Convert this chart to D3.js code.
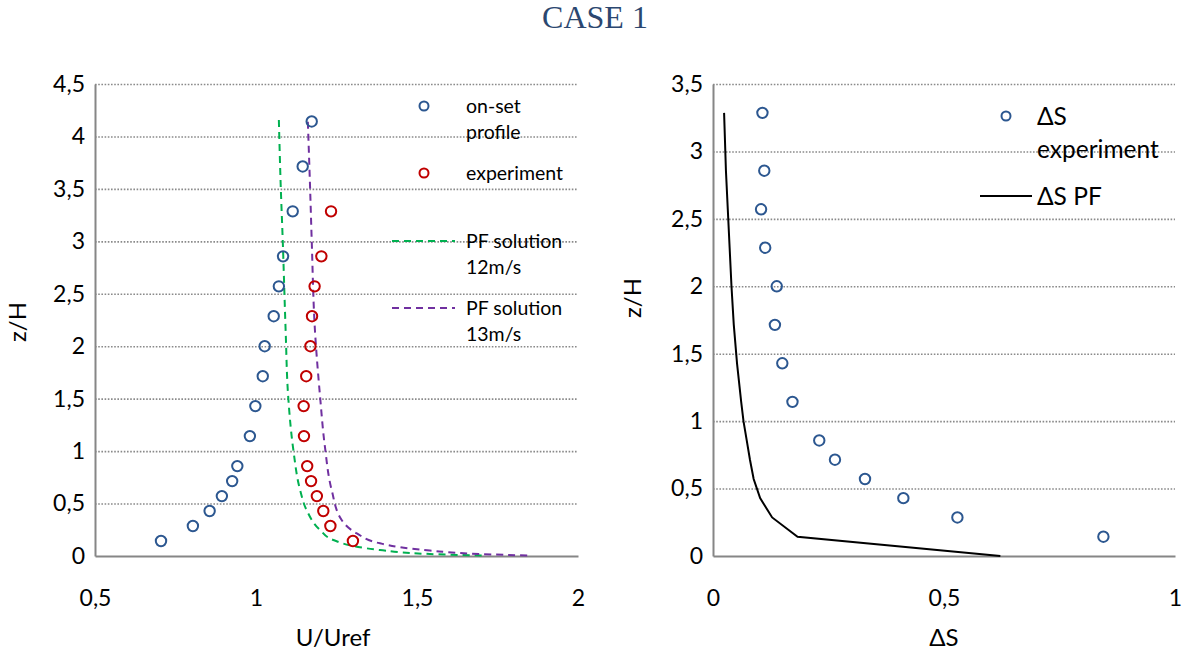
<!DOCTYPE html>
<html>
<head>
<meta charset="utf-8">
<script src="https://cdn.jsdelivr.net/npm/d3@7"></script>
<style>
  body { margin: 0; background: #fff; }
  svg { display: block; }
  text { font-family: Lato, "Noto Sans", sans-serif; fill: #000; }
  text.title { font-family: "Liberation Serif", "DejaVu Serif", serif; fill: #2b4770; }
</style>
</head>
<body>
<svg width="1184" height="654"></svg>
<script>
// Data
var zLevels = [0.143, 0.286, 0.429, 0.571, 0.714, 0.857, 1.143, 1.429, 1.714,
               2.0, 2.286, 2.571, 2.857, 3.286, 3.714, 4.143];
var onsetU = [0.705, 0.804, 0.856, 0.894, 0.926, 0.942, 0.981, 0.998, 1.021,
              1.027, 1.055, 1.071, 1.084, 1.114, 1.145, 1.173];
var expU = [1.301, 1.231, 1.209, 1.189, 1.171, 1.159, 1.149, 1.148, 1.156,
            1.169, 1.174, 1.182, 1.203, 1.233];

var pf12Z = [4.157, 3.508, 3.013, 2.155, 1.519, 1.011, 0.629, 0.439, 0.248,
             0.153, 0.089, 0.057, 0.019, 0.004];
var pf12U = [1.071, 1.077, 1.083, 1.092, 1.100, 1.116, 1.137, 1.157, 1.199,
             1.240, 1.313, 1.385, 1.540, 1.711];
var pf13Z = [4.14, 3.508, 3.013, 2.155, 1.519, 1.042, 0.629, 0.343, 0.216,
             0.121, 0.052, 0.019, 0.004];
var pf13U = [1.161, 1.168, 1.173, 1.183, 1.199, 1.214, 1.235, 1.266, 1.313,
             1.385, 1.540, 1.696, 1.851];

var dsExp = [0.845, 0.529, 0.412, 0.329, 0.264, 0.230, 0.172, 0.150, 0.134,
             0.138, 0.113, 0.104, 0.111, 0.107];
var dsPfZ = [0, 0.143, 0.286, 0.429, 0.571, 0.714, 0.857, 1.0, 1.143, 1.429,
             1.714, 2.0, 2.286, 2.571, 2.857, 3.286];
var dsPf = [0.622, 0.183, 0.128, 0.102, 0.088, 0.080, 0.073, 0.066, 0.061,
            0.052, 0.045, 0.040, 0.036, 0.032, 0.028, 0.024];

var xTicksL = [0.5, 1, 1.5, 2];
var yTicksL = [0, 0.5, 1, 1.5, 2, 2.5, 3, 3.5, 4, 4.5];
var xTicksR = [0, 0.5, 1];
var yTicksR = [0, 0.5, 1, 1.5, 2, 2.5, 3, 3.5];

var blue = "#2c5790", red = "#c00000", green = "#00b050", purple = "#7030a0";
var comma = d => String(d).replace(".", ",");

var svg = d3.select("svg");

svg.append("text").attr("class", "title")
   .attr("x", 595).attr("y", 28)
   .attr("text-anchor", "middle")
   .attr("font-size", "32px")
   .text("CASE 1");

// draws axes + grid for one panel
function panel(xs, ys, xt, yt) {
  var g = svg.append("g");
  g.append("g")
   .attr("transform", "translate(" + xs.range()[0] + ",0)")
   .call(d3.axisLeft(ys).tickValues(yt.filter(v => v > 0))
     .tickSize(-(xs.range()[1] - xs.range()[0])).tickFormat(""))
   .call(a => a.select(".domain").remove())
   .selectAll("line")
   .attr("stroke", "#8a8a8a").attr("stroke-width", 1.6)
   .attr("stroke-dasharray", "1.6,1.6");

  g.append("g")
   .attr("transform", "translate(0," + ys.range()[0] + ")")
   .call(d3.axisBottom(xs).tickValues(xt).tickSize(0).tickPadding(34)
     .tickFormat(comma))
   .call(a => a.select(".domain").attr("stroke", "#868686").attr("stroke-width", 2))
   .selectAll("text").attr("font-size", "23px").attr("font-family", null);

  g.append("g")
   .attr("transform", "translate(" + xs.range()[0] + ",0)")
   .call(d3.axisLeft(ys).tickValues(yt).tickSize(0).tickPadding(10)
     .tickFormat(comma))
   .call(a => a.select(".domain").attr("stroke", "#868686").attr("stroke-width", 2))
   .selectAll("text").attr("font-size", "23px").attr("font-family", null);
  return g;
}

function circles(g, data, xs, ys, color) {
  g.selectAll(null).data(data).enter().append("circle")
   .attr("cx", d => xs(d[0])).attr("cy", d => ys(d[1]))
   .attr("r", 5.2).attr("fill", "none")
   .attr("stroke", color).attr("stroke-width", 2);
}

// Left panel
var xL = d3.scaleLinear().domain([0.5, 2]).range([95, 578]);
var yL = d3.scaleLinear().domain([0, 4.5]).range([556, 84]);
var gL = panel(xL, yL, xTicksL, yTicksL);

var lineL = d3.line().x(d => xL(d[0])).y(d => yL(d[1])).curve(d3.curveMonotoneY);
gL.append("path").datum(d3.zip(pf12U, pf12Z))
  .attr("d", lineL).attr("fill", "none")
  .attr("stroke", green).attr("stroke-width", 2).attr("stroke-dasharray", "7,5");
gL.append("path").datum(d3.zip(pf13U, pf13Z))
  .attr("d", lineL).attr("fill", "none")
  .attr("stroke", purple).attr("stroke-width", 2).attr("stroke-dasharray", "7,5");

circles(gL, d3.zip(onsetU, zLevels), xL, yL, blue);
circles(gL, d3.zip(expU, zLevels.slice(0, expU.length)), xL, yL, red);

svg.append("text").attr("x", 333).attr("y", 646)
   .attr("text-anchor", "middle").attr("font-size", "24px").text("U/Uref");
svg.append("text").attr("transform", "translate(26,322) rotate(-90)")
   .attr("text-anchor", "middle").attr("font-size", "24px").text("z/H");

// Left legend
var legL = svg.append("g").attr("font-size", "19.5px");
legL.append("circle").attr("cx", 424).attr("cy", 106).attr("r", 4.5)
    .attr("fill", "none").attr("stroke", blue).attr("stroke-width", 2);
legL.append("circle").attr("cx", 424).attr("cy", 173).attr("r", 4.5)
    .attr("fill", "none").attr("stroke", red).attr("stroke-width", 2);
legL.append("line").attr("x1", 392).attr("x2", 455).attr("y1", 241).attr("y2", 241)
    .attr("stroke", green).attr("stroke-width", 2).attr("stroke-dasharray", "7,5");
legL.append("line").attr("x1", 392).attr("x2", 455).attr("y1", 308).attr("y2", 308)
    .attr("stroke", purple).attr("stroke-width", 2).attr("stroke-dasharray", "7,5");
[["on-set", 106], ["profile", 132], ["experiment", 173], ["PF solution", 241],
 ["12m/s", 267], ["PF solution", 308], ["13m/s", 334]].forEach(function(t) {
  legL.append("text").attr("x", 466).attr("y", t[1]).attr("dy", "0.35em").text(t[0]);
});

// Right panel
var xR = d3.scaleLinear().domain([0, 1]).range([713, 1175]);
var yR = d3.scaleLinear().domain([0, 3.5]).range([556, 84]);
var gR = panel(xR, yR, xTicksR, yTicksR);

gR.append("path").datum(d3.zip(dsPf, dsPfZ))
  .attr("d", d3.line().x(d => xR(d[0])).y(d => yR(d[1])))
  .attr("fill", "none").attr("stroke", "#000").attr("stroke-width", 2);
circles(gR, d3.zip(dsExp, zLevels.slice(0, dsExp.length)), xR, yR, blue);

svg.append("text").attr("x", 944).attr("y", 646)
   .attr("text-anchor", "middle").attr("font-size", "24px").text("ΔS");
svg.append("text").attr("transform", "translate(641,298) rotate(-90)")
   .attr("text-anchor", "middle").attr("font-size", "24px").text("z/H");

// Right legend
var legR = svg.append("g").attr("font-size", "24.5px");
legR.append("circle").attr("cx", 1006).attr("cy", 116).attr("r", 4.5)
    .attr("fill", "none").attr("stroke", blue).attr("stroke-width", 2);
legR.append("line").attr("x1", 980).attr("x2", 1032).attr("y1", 196).attr("y2", 196)
    .attr("stroke", "#000").attr("stroke-width", 2);
[["ΔS", 116], ["experiment", 149], ["ΔS PF", 196]].forEach(function(t) {
  legR.append("text").attr("x", 1037).attr("y", t[1]).attr("dy", "0.35em").text(t[0]);
});
</script>
</body>
</html>
